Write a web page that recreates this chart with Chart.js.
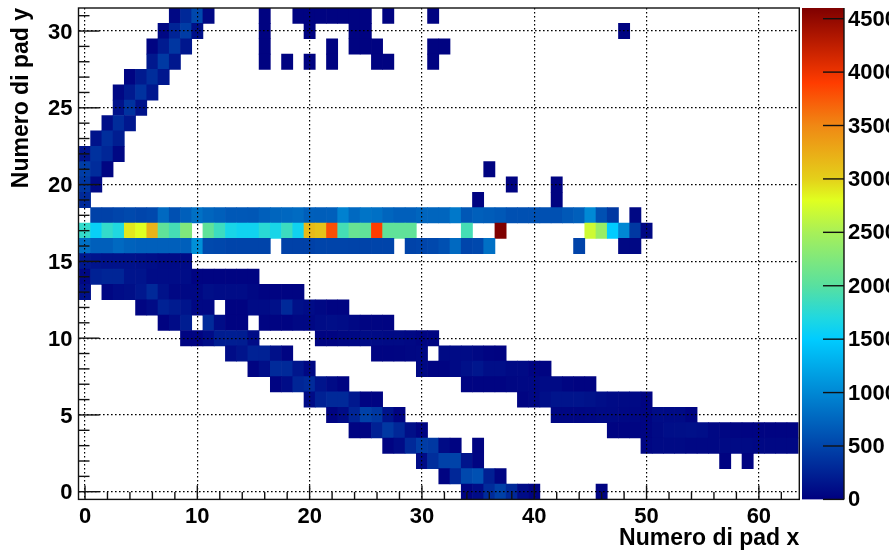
<!DOCTYPE html>
<html>
<head>
<meta charset="utf-8">
<title>Numero di pad</title>
<script src="https://cdn.jsdelivr.net/npm/chart.js@4"></script>
<style>
    html, body { margin: 0; padding: 0; background: #fff; overflow: hidden; }
    canvas { position: absolute; top: 0; }
    #padChart { left: 0; }
    #zChart { left: 802px; }
</style>
</head>
<body>
<canvas id="padChart" width="802" height="552"></canvas>
<canvas id="zChart" width="87" height="552"></canvas>
<script>
/* ── Data: every run is [first pad x, counts...] ── */
const row0  = [[34, 30, 90, 320, 470, 300, 90, 30], [46, 20]];
const row1  = [[32, 30, 290, 530, 590, 230, 40]];
const row2  = [[30, 90, 340, 480, 490, 150, 30], [57, 20], [59, 20]];
const row3  = [[27, 30, 90, 300, 440, 410, 80, 30], [35, 20], [50, 50, 70, 70, 70, 60, 60, 60, 70, 70, 70, 60, 60, 60, 60]];
const row4  = [[24, 30, 40, 240, 410, 290, 110, 30], [47, 30, 30, 40, 40, 70, 100, 110, 120, 100, 60, 50, 40, 30, 30, 30, 30, 30]];
const row5  = [[22, 30, 90, 270, 480, 410, 150, 30], [42, 50, 50, 50, 60, 70, 70, 60, 60, 40, 90, 80, 80, 40]];
const row6  = [[20, 80, 240, 300, 300, 180, 30, 30], [39, 30, 60, 110, 150, 150, 150, 130, 100, 80, 70, 70, 30]];
const row7  = [[17, 30, 90, 270, 310, 150, 80, 30], [34, 30, 30, 30, 30, 50, 60, 60, 80, 70, 40, 20, 20]];
const row8  = [[15, 30, 100, 310, 300, 160, 60], [30, 60, 30, 30, 70, 120, 160, 100, 100, 70, 70, 30, 30]];
const row9  = [[13, 90, 150, 250, 240, 120, 30], [26, 30, 30, 40, 50, 60], [32, 70, 80, 80, 60, 30, 20]];
const row10 = [[9, 30, 30, 90, 210, 220, 210, 90], [21, 30, 30, 50, 60, 90, 80, 70, 70, 60, 40, 40]];
const row11 = [[7, 20, 90, 210], [11, 310, 90, 20, 20], [16, 30, 30, 30, 60, 60, 90, 100, 90, 60, 40, 40, 30]];
const row12 = [[5, 40, 80, 240, 200, 150, 60, 60], [13, 20, 20, 80, 80, 120, 300, 120, 90, 60, 30, 30]];
const row13 = [[0, 120], [2, 50, 90, 110, 170, 300, 130, 60, 60, 60, 110, 90, 90, 90, 60, 30, 30, 30, 30]];
const row14 = [[0, 60, 240, 270, 270, 150, 150, 90, 90, 90, 90, 30, 30, 30, 30, 30, 30]];
const row15 = [[0, 180, 150, 130, 130, 130, 120, 100, 80, 80, 80]];
const row16 = [[0, 820, 700, 700, 770, 720, 700, 700, 700, 700, 700, 1060], [11, 540, 520, 500, 500, 500, 500],
               [18, 480, 480, 480, 500, 500, 500, 490, 490, 500, 500], [29, 490, 510, 530, 590, 770, 510, 530, 820], [44, 490], [48, 60, 60]];
const row17 = [[0, 1800, 1550, 1800, 1700, 2900, 2800, 3200, 2050, 1900, 2250],
               [11, 2050, 1850, 1650, 1600, 1600, 1750, 1650, 1850, 1600, 3150, 3100, 3800, 1900, 2100, 2050, 3900, 2050, 2050, 2050],
               [34, 1900], [37, 4600], [45, 2700, 2400, 1500, 1000, 410, 60]];
const row18 = [[1, 480, 480, 510, 540, 510, 530, 770, 590, 700, 820, 740, 700, 650, 650, 640, 700, 740, 760, 790, 700, 690, 700, 950, 770, 850,
                820, 740, 700, 700, 740, 740, 740, 880, 640, 700, 680, 650, 590, 590, 590, 590, 590, 650, 700, 1010, 590, 410], [49, 60]];
const row19 = [[0, 310], [35, 20], [42, 20]];
const row20 = [[0, 400, 70], [38, 20], [42, 20]];
const row21 = [[0, 450, 320, 40], [36, 20]];
const row22 = [[0, 150, 360, 280, 60]];
const row23 = [[1, 140, 340, 210]];
const row24 = [[2, 100, 320, 170]];
const row25 = [[3, 130, 370, 130]];
const row26 = [[3, 60, 190, 370, 170]];
const row27 = [[4, 30, 190, 330, 170]];
const row28 = [[6, 180, 420, 170], [16, 20], [18, 20], [20, 20], [22, 20], [26, 20, 20], [31, 20]];
const row29 = [[6, 30, 200, 400, 160], [16, 20], [22, 20], [24, 20, 20, 20], [31, 20, 20]];
const row30 = [[7, 60, 265, 440, 120], [16, 20], [20, 20], [24, 20, 20], [48, 20]];
const row31 = [[8, 60, 295, 530, 60], [16, 20], [19, 20, 20, 20, 20, 20, 20, 20], [27, 20], [31, 20]];
const rows = [row0, row1, row2, row3, row4, row5, row6, row7, row8, row9, row10, row11, row12, row13, row14, row15,
              row16, row17, row18, row19, row20, row21, row22, row23, row24, row25, row26, row27, row28, row29, row30, row31];

const xTicks = [0, 10, 20, 30, 40, 50, 60];
const yTicks = [0, 5, 10, 15, 20, 25, 30];
const zTicks = [0, 500, 1000, 1500, 2000, 2500, 3000, 3500, 4000, 4500];
const zMax = 4600;

const paletteValues = [0, 500, 1000, 1500, 1700, 2000, 2500, 2800, 3000, 3500, 3900, 4600];
const paletteColors = ['#00007f', '#0044aa', '#0088d4', '#00ccff', '#20d8e0', '#58e0a0', '#a8f058', '#e0ff20', '#e4d01a', '#f08814', '#ff3c00', '#7f0000'];

const FONT = '"Liberation Sans", Arial, sans-serif';

/* ── Palette lookup ── */
function hexToRgb(hex) {
    return [1, 3, 5].map(i => parseInt(hex.slice(i, i + 2), 16));
}

function colorFor(value) {
    let i = 0;
    while (i < paletteValues.length - 2 && value > paletteValues[i + 1]) i++;
    const t = Math.min(1, (value - paletteValues[i]) / (paletteValues[i + 1] - paletteValues[i]));
    const a = hexToRgb(paletteColors[i]);
    const b = hexToRgb(paletteColors[i + 1]);
    const c = a.map((v, k) => Math.round(v + (b[k] - v) * t));
    return `rgb(${c[0]},${c[1]},${c[2]})`;
}

/* ── One bar dataset per pad row ── */
const datasets = rows.map((runs, padY) => {
    const points = [];
    runs.forEach(run => {
        run.slice(1).forEach((count, k) => {
            points.push({ x: run[0] + k, y: [padY - 0.5, padY + 0.5], count: count });
        });
    });
    return {
        data: points,
        backgroundColor: points.map(p => colorFor(p.count)),
        borderWidth: 0,
        grouped: false,
        barPercentage: 1,
        categoryPercentage: 1
    };
});

/* ── ROOT style frame and inner ticks ── */
function drawLine(ctx, x1, y1, x2, y2) {
    ctx.beginPath();
    ctx.moveTo(x1, y1);
    ctx.lineTo(x2, y2);
    ctx.stroke();
}

const padFrame = {
    id: 'padFrame',
    afterDraw(chart) {
        const { ctx, chartArea: area, scales } = chart;
        ctx.save();
        ctx.strokeStyle = '#111';
        ctx.lineWidth = 1.4;

        for (let v = 0; v <= 62; v += 2) {
            const x = scales.x.getPixelForValue(v);
            drawLine(ctx, x, area.bottom, x, area.bottom - (v % 10 === 0 ? 14 : 7.5));
        }
        for (let v = 0; v <= 31; v += 1) {
            const y = scales.y.getPixelForValue(v);
            drawLine(ctx, area.left, y, area.left + (v % 5 === 0 ? 21 : 11), y);
        }

        ctx.strokeRect(area.left, area.top, area.right - area.left, area.bottom - area.top);
        ctx.restore();
    }
};

const zFrame = {
    id: 'zFrame',
    afterDraw(chart) {
        const { ctx, chartArea: area, scales } = chart;
        ctx.save();
        ctx.strokeStyle = '#111';
        ctx.lineWidth = 1.4;
        zTicks.forEach(v => {
            const y = scales.y.getPixelForValue(v);
            drawLine(ctx, area.right - 21, y, area.right, y);
        });
        drawLine(ctx, area.right, area.top, area.right, area.bottom);
        ctx.restore();
    }
};

/* labels may stick out past the plot, the layout should not make room for them */
function fixSize(scale, width, height) {
    if (width !== null) scale.width = width;
    if (height !== null) scale.height = height;
    scale.paddingTop = 0;
    scale.paddingBottom = 0;
    scale.paddingLeft = 0;
    scale.paddingRight = 0;
}

/* ── Pad map ── */
new Chart(document.getElementById('padChart'), {
    type: 'bar',
    data: { datasets: datasets },
    options: {
        responsive: false,
        animation: false,
        events: [],
        layout: { padding: { top: 8, right: 2.7 } },
        plugins: { legend: { display: false }, tooltip: { enabled: false } },
        scales: {
            x: {
                type: 'linear',
                offset: false,
                min: -0.58,
                max: 63.6,
                afterBuildTicks: s => { s.ticks = xTicks.map(value => ({ value })); },
                afterFit: s => fixSize(s, null, 52.6),
                grid: { color: '#000', lineWidth: 1.2, drawTicks: false, offset: false, z: 1 },
                border: { display: false, dash: [1.6, 2.4] },
                ticks: {
                    autoSkip: false, maxRotation: 0, padding: 4, color: '#000',
                    font: { family: FONT, size: 22, weight: 'bold' },
                    callback: v => String(v)
                },
                title: {
                    display: true, text: 'Numero di pad x', align: 'end', color: '#000',
                    padding: { top: 0, bottom: 0 },
                    font: { family: FONT, size: 23, weight: 'bold' }
                }
            },
            y: {
                min: -0.5,
                max: 31.5,
                afterBuildTicks: s => { s.ticks = yTicks.map(value => ({ value })); },
                afterFit: s => fixSize(s, 78.5, null),
                grid: { color: '#000', lineWidth: 1.2, drawTicks: false, z: 1 },
                border: { display: false, dash: [1.6, 2.4] },
                ticks: {
                    autoSkip: false, padding: 6, labelOffset: 1.5, color: '#000',
                    font: { family: FONT, size: 22, weight: 'bold' },
                    callback: v => String(v)
                },
                title: {
                    display: true, text: 'Numero di pad y', align: 'end', color: '#000',
                    padding: { top: 8, bottom: 0 },
                    font: { family: FONT, size: 23, weight: 'bold' }
                }
            }
        }
    },
    plugins: [padFrame]
});

/* ── Colour scale ── */
function paletteGradient(context) {
    const chart = context.chart;
    if (!chart.chartArea) return paletteColors[0];
    const y = chart.scales.y;
    const gradient = chart.ctx.createLinearGradient(0, y.getPixelForValue(0), 0, y.getPixelForValue(zMax));
    paletteValues.forEach((v, i) => gradient.addColorStop(v / zMax, paletteColors[i]));
    return gradient;
}

new Chart(document.getElementById('zChart'), {
    type: 'bar',
    data: {
        labels: ['z'],
        datasets: [{
            data: [[0, zMax]],
            backgroundColor: paletteGradient,
            borderWidth: 0,
            barPercentage: 1,
            categoryPercentage: 1
        }]
    },
    options: {
        responsive: false,
        animation: false,
        events: [],
        layout: { padding: { top: 8, bottom: 52.6 } },
        plugins: { legend: { display: false }, tooltip: { enabled: false } },
        scales: {
            x: { display: false },
            y: {
                position: 'right',
                min: 0,
                max: zMax,
                afterBuildTicks: s => { s.ticks = zTicks.map(value => ({ value })); },
                afterFit: s => fixSize(s, 45, null),
                grid: { display: false, drawTicks: false },
                border: { display: false },
                ticks: {
                    autoSkip: false, padding: 4, labelOffset: 1, color: '#000',
                    font: { family: FONT, size: 22, weight: 'bold' },
                    callback: v => String(v)
                }
            }
        }
    },
    plugins: [zFrame]
});
</script>
</body>
</html>
